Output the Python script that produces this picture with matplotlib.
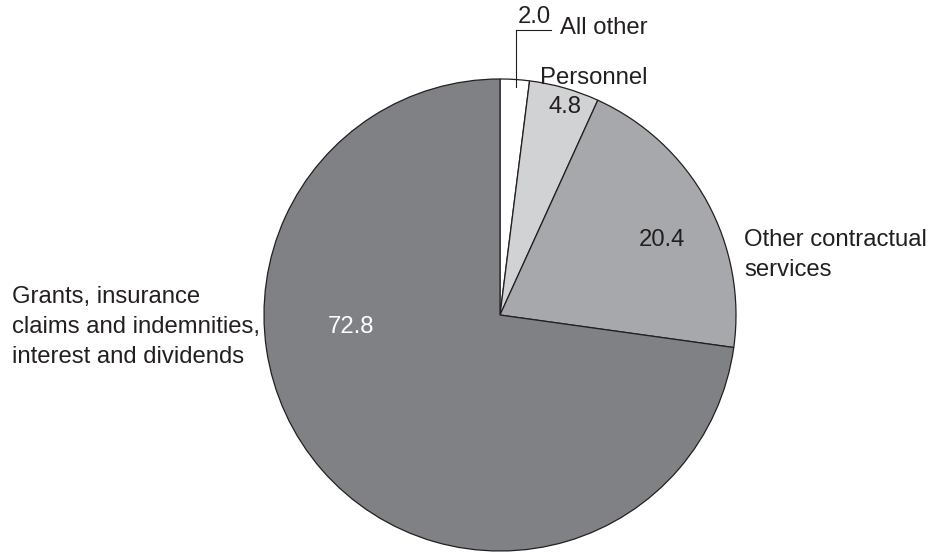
import matplotlib.pyplot as plt

# shares in percent, clockwise from 12 o'clock
categories = ['All other', 'Personnel', 'Other contractual\nservices',
              'Grants, insurance\nclaims and indemnities,\ninterest and dividends']
values = [2.0, 4.8, 20.4, 72.8]
colors = ['#ffffff', '#d1d2d4', '#a7a8ab', '#808184']

plt.rcParams['font.family'] = ['Liberation Sans', 'DejaVu Sans']

fig = plt.figure(figsize=(9.46, 5.52), dpi=100)
ax = fig.add_axes([0, 0, 1, 1])

# inverted y axis flips direction, so counterclock=True and start at -90 gives clockwise from top
ax.pie(values, colors=colors, startangle=-90, counterclock=True,
       center=(500, 315), radius=236, frame=True,
       wedgeprops=dict(edgecolor='#231f20', linewidth=0.9))
ax.set_xlim(0, 946)
ax.set_ylim(552, 0)
ax.set_aspect('equal')
ax.axis('off')

fs = 17.2
dark = '#231f20'
# value labels
ax.text(534, 17, f'{values[0]:.1f}', fontsize=fs, ha='center', va='center', color=dark)
ax.plot([516, 551], [30, 30], color=dark, lw=0.8)
ax.plot([516, 516], [30, 87], color=dark, lw=0.8)
ax.text(565, 107, f'{values[1]:.1f}', fontsize=fs, ha='center', va='center', color=dark)
ax.text(662, 240, f'{values[2]:.1f}', fontsize=fs, ha='center', va='center', color=dark)
ax.text(351, 327, f'{values[3]:.1f}', fontsize=fs, ha='center', va='center', color='white')

# category labels
ax.text(560, 28, categories[0], fontsize=fs, ha='left', va='center', color=dark)
ax.text(540, 78, categories[1], fontsize=fs, ha='left', va='center', color=dark)
ax.text(744, 255, categories[2], fontsize=fs, ha='left', va='center',
        linespacing=1.47, color=dark)
ax.text(12, 327, categories[3], fontsize=fs, ha='left', va='center',
        linespacing=1.47, color=dark)

fig.savefig('out.png', dpi=100)
